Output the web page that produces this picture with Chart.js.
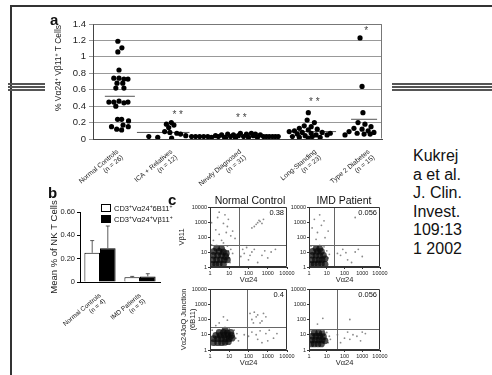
<!DOCTYPE html>
<html>
<head>
<meta charset="utf-8">
<script src="https://cdn.jsdelivr.net/npm/chart.js@4.4.1/dist/chart.umd.min.js"></script>
<style>
  body { margin:0; width:492px; height:375px; overflow:hidden; background:#fff; position:relative;
         font-family:"Liberation Sans", Arial, sans-serif; color:#111; }
  canvas { position:absolute; }
  .rule { position:absolute; background:#333; }
  .tri { position:absolute; height:1.5px; background:#555; }
  .letter { position:absolute; font-weight:bold; font-size:15px; line-height:15px; }
  .ctitle { position:absolute; font-size:10.5px; text-align:center; width:100px; top:194px; }
  .leg { position:absolute; left:101px; font-size:7.5px; line-height:8px; white-space:nowrap; }
  .leg i { display:inline-block; width:8px; height:6px; border:1px solid #000; vertical-align:-1px; margin-right:3px; }
  .leg sup, #ytitleA sup { font-size:5px; vertical-align:3px; }
  #ytitleA { position:absolute; left:58px; top:68px; transform:translate(-50%, -50%) rotate(-90deg);
             font-size:8.5px; white-space:nowrap; color:#222; }
  #cite { position:absolute; left:413px; top:147px; font-size:16px; line-height:18.6px; }
</style>
</head>
<body>
<div class="rule" style="left:10px;top:5px;width:482px;height:1.5px"></div>
<div class="rule" style="left:10px;top:5px;width:1.5px;height:370px"></div>
<div class="tri" style="left:8px;top:83px;width:37px"></div>
<div class="tri" style="left:8px;top:86px;width:37px"></div>
<div class="tri" style="left:8px;top:89px;width:37px"></div>
<div class="tri" style="left:392px;top:83px;width:100px"></div>
<div class="tri" style="left:392px;top:86px;width:100px"></div>
<div class="tri" style="left:392px;top:89px;width:100px"></div>

<canvas id="chartA" width="386" height="195" style="left:0;top:0"></canvas>
<canvas id="chartB" width="161" height="145" style="left:0;top:185px"></canvas>
<canvas id="flowTL" width="128" height="82" style="left:170px;top:203px"></canvas>
<canvas id="flowTR" width="106" height="82" style="left:285px;top:203px"></canvas>
<canvas id="flowBL" width="128" height="83" style="left:170px;top:285px"></canvas>
<canvas id="flowBR" width="106" height="83" style="left:285px;top:285px"></canvas>

<div class="letter" style="left:50px;top:12px">a</div>
<div class="letter" style="left:48px;top:185px">b</div>
<div class="letter" style="left:168px;top:192px">c</div>
<div id="ytitleA">% Vα24<sup>+</sup> Vβ11<sup>+</sup> T Cells</div>
<div class="ctitle" style="left:200px">Normal Control</div>
<div class="ctitle" style="left:294px">IMD Patient</div>
<div class="leg" style="top:202px"><i style="background:#fff"></i>CD3<sup>+</sup>Vα24<sup>+</sup>6B11<sup>+</sup></div>
<div class="leg" style="top:213px"><i style="background:#000"></i>CD3<sup>+</sup>Vα24<sup>+</sup>Vβ11<sup>+</sup></div>
<div id="cite">Kukrej<br>a et al.<br>J. Clin.<br>Invest.<br>109:13<br>1 2002</div>

<script>
// ---------- panel a : individual values ----------
const groupLabels = [
    ['Normal Controls', '(n = 26)'],
    ['ICA + Relatives', '(n = 12)'],
    ['Newly Diagnosed', '(n = 31)'],
    ['Long-Standing', '(n = 23)'],
    ['Type 2 Diabetes', '(n = 15)']
];
const groupTickX = [0.85, 2.72, 5.1, 7.7, 9.55];
const yTicksA = [0, 0.2, 0.4, 0.6, 0.8, 1, 1.2, 1.4];

const normalY = [1.19, 1.11, 1.06, 0.84, 0.74, 0.74, 0.73, 0.73, 0.68, 0.68, 0.62, 0.62, 0.45,
                 0.45, 0.46, 0.44, 0.45, 0.40, 0.24, 0.24, 0.22, 0.15, 0.12, 0.17, 0.15, 0.11];
const normalX = [0.86, 1.0, 0.86, 0.9, 0.72, 0.9, 1.07, 1.21, 0.83, 1.03, 0.79, 1.07, 0.55,
                 0.72, 0.9, 1.07, 1.21, 0.79, 0.85, 0.99, 1.23, 0.64, 0.82, 1.04, 1.22, 0.99];
const icaY = [0.20, 0.18, 0.17, 0.14, 0.09, 0.08, 0.07, 0.06, 0.03, 0.02, 0.01, 0.04];
const icaX = [2.71, 2.54, 2.8, 2.62, 2.48, 2.66, 2.9, 3.03, 1.93, 2.24, 2.72, 3.21];
const newlyY = [0.03, 0.03, 0.03, 0.03, 0.03, 0.02, 0.04, 0.03, 0.05, 0.02, 0.06, 0.03, 0.05, 0.01, 0.04, 0.07,
                0.03, 0.06, 0.02, 0.07, 0.04, 0.06, 0.02, 0.05, 0.03, 0.03, 0.03, 0.03, 0.03, 0.03, 0.01];
const newlyX = [3.41, 3.55, 3.69, 3.83, 3.97, 4.1, 4.24, 4.34, 4.45, 4.55, 4.66, 4.76, 4.86, 4.93, 5.03, 5.1,
                5.21, 5.31, 5.38, 5.48, 5.55, 5.62, 5.69, 5.79, 5.9, 6.0, 6.1, 6.21, 6.31, 6.41, 4.59];
const longY = [0.32, 0.23, 0.20, 0.16, 0.15, 0.13, 0.12, 0.11, 0.10, 0.09, 0.08, 0.08,
               0.07, 0.06, 0.05, 0.05, 0.04, 0.03, 0.03, 0.02, 0.02, 0.01, 0.07];
const longX = [7.45, 7.41, 7.66, 7.31, 7.55, 7.14, 7.76, 7.45, 6.97, 6.79, 7.24, 7.93,
               7.55, 7.07, 7.72, 8.1, 7.34, 6.9, 7.59, 7.14, 7.86, 7.45, 8.21];
const type2Y = [1.23, 0.64, 0.32, 0.20, 0.18, 0.15, 0.13, 0.12, 0.10, 0.09, 0.08, 0.07, 0.06, 0.05, 0.06];
const type2X = [9.24, 9.31, 9.34, 9.17, 9.41, 9.62, 9.03, 9.31, 9.52, 8.86, 9.72, 9.14, 9.38, 8.72, 9.59];

const meanY = [0.52, 0.08, 0.09, 0.24];
const meanFrom = [0.41, 1.52, 6.72, 8.93];
const meanTo = [1.45, 3.34, 8.41, 9.83];

const starText = ['* *', '* *', '* *', '*'];
const starX = [2.93, 5.13, 7.66, 9.45];
const starY = [0.29, 0.25, 0.45, 1.31];

// ---------- panel b : means ----------
const barLabels = [['Normal Controls', '(n = 4)'], ['IMD Patients', '(n = 5)']];
const mean6B11 = [0.25, 0.04];
const meanVb11 = [0.29, 0.048];
const err6B11 = [0.105, 0.008];
const errVb11 = [0.19, 0.023];
const yTicksB = [0, 0.1, 0.2, 0.3, 0.4, 0.5, 0.6];

// ---------- panel c : flow plots (log 1..10000) ----------
const logTicks = [1, 10, 100, 1000, 10000];
const flowGateX = [32, 26, 83, 38];
const flowGateY = [29, 29, 32, 24];
const flowPct = ['0.38', '0.056', '0.4', '0.056'];

const coreTL = [[1.3,1.5],[2,1.5],[3,1.6],[5,1.5],[1.4,3],[2.2,3],[3.5,3],[5.5,3],[1.5,6],[2.5,6],[4,6],
                [6.5,5],[1.6,11],[3,11],[5,10],[2.2,18],[4,17],[8,3],[7,8]];
const dotsTL = [[2,300],[3,150],[5,800],[2.5,2000],[8,500],[12,120],[1.5,60],[6,3000],[4,60],[15,250],
                [1.2,900],[9,1500],[3,4500],[20,80],[7,200],[150,400],[250,700],[400,1100],[600,1500],
                [300,900],[200,500],[500,800],[350,1300],[60,8],[100,3],[200,15],[500,6],[1500,10],[80,20],
                [300,2],[1000,4],[40,5],[2500,15],[150,10],[700,12],[50,15],[120,6],[10,4],[12,15],[8,25],
                [15,8],[1.2,30],[5,40],[11,2],[9,12]];
const coreTR = [[1.3,1.5],[2,1.5],[3.2,1.6],[5,1.6],[8,1.5],[1.4,3],[2.3,3],[3.6,3],[5.5,3],[8,3.5],
                [1.5,6],[2.5,6],[4,6],[6.5,6],[1.6,11],[3,11],[5,11],[2.5,17],[4,16]];
const dotsTR = [[3,200],[5,600],[2,1500],[8,90],[4,3000],[1.5,400],[12,250],[2.5,70],[7,1200],[60,6],
                [150,3],[400,10],[1000,5],[80,15],[250,2],[40,8],[600,15],[120,9],[12,4],[10,12],[7,22],
                [1.3,25],[14,7],[4,28],[400,2000]];
const coreBL = [[1.5,3],[2.5,3],[4,3],[6,3.2],[9,3.5],[1.5,5.5],[2.5,5.5],[4,5.5],[6.5,5.5],[10,5.5],
                [14,6],[2,9],[3.5,9],[5.5,9],[8.5,9],[13,9],[3,14],[5,14],[8,13],[12,14],[6,20]];
const dotsBL = [[150,100],[300,200],[500,80],[200,300],[800,150],[400,60],[250,150],[120,250],[600,250],
                [180,60],[100,8],[300,5],[800,12],[2000,6],[150,15],[500,3],[1200,20],[60,10],[400,18],
                [250,10],[1000,4],[3000,12],[3,60],[5,150],[2,40],[8,90],[22,6],[25,12],[18,20],[10,24],
                [1.3,20],[30,4]];
const coreBR = [[1.3,2.5],[2,2.5],[3.2,2.5],[5,2.5],[1.4,4.5],[2.3,4.5],[3.6,4.5],[5.5,4.5],[8,4],
                [1.5,8],[2.5,8],[4,8],[6.5,7.5],[2,13],[3.5,13],[5.5,12]];
const dotsBR = [[100,6],[300,10],[800,4],[150,15],[500,8],[1500,12],[60,3],[200,5],[1000,15],[40,10],
                [3,50],[200,100],[6,120],[12,3],[14,8],[10,14],[1.3,18],[7,20],[16,5]];

Chart.defaults.font.family = '"Liberation Sans", Arial, sans-serif';
Chart.defaults.color = '#222';

// box round the plot area (top + right, or all four sides)
const framePlugin = {
    id: 'frame',
    afterDraw(chart, args, o) {
        const { ctx, chartArea: a } = chart;
        const l = Math.round(a.left) + 0.5, r = Math.round(a.right) - 0.5;
        const t = Math.round(a.top) + 0.5, b = Math.round(a.bottom) - 0.5;
        ctx.save();
        ctx.strokeStyle = o.color || '#444';
        ctx.lineWidth = 1;
        ctx.beginPath();
        ctx.moveTo(l, t);
        ctx.lineTo(r, t);
        ctx.lineTo(r, b);
        if (o.full) { ctx.lineTo(l, b); ctx.closePath(); }
        ctx.stroke();
        ctx.restore();
    }
};

const starPlugin = {
    id: 'stars',
    afterDatasetsDraw(chart) {
        const { ctx, scales: { x, y } } = chart;
        ctx.save();
        ctx.fillStyle = '#444';
        ctx.font = '10px "Liberation Sans", Arial';
        ctx.textAlign = 'center';
        ctx.textBaseline = 'middle';
        starText.forEach((t, i) => ctx.fillText(t, x.getPixelForValue(starX[i]), y.getPixelForValue(starY[i])));
        ctx.restore();
    }
};

const errPlugin = {
    id: 'errbars',
    afterDatasetsDraw(chart) {
        const { ctx, scales: { y } } = chart;
        const errs = [err6B11, errVb11];
        ctx.save();
        ctx.strokeStyle = '#333';
        ctx.lineWidth = 0.8;
        chart.data.datasets.forEach((ds, di) => {
            chart.getDatasetMeta(di).data.forEach((bar, i) => {
                const top = y.getPixelForValue(ds.data[i] + errs[di][i]);
                ctx.beginPath();
                ctx.moveTo(bar.x, bar.y);
                ctx.lineTo(bar.x, top);
                ctx.moveTo(bar.x - 2, top);
                ctx.lineTo(bar.x + 2, top);
                ctx.stroke();
            });
        });
        ctx.restore();
    }
};

const gatePlugin = {
    id: 'gates',
    afterDatasetsDraw(chart, args, o) {
        const { ctx, chartArea: a, scales: { x, y } } = chart;
        const gx = Math.round(x.getPixelForValue(o.x)) + 0.5;
        const gy = Math.round(y.getPixelForValue(o.y)) + 0.5;
        ctx.save();
        ctx.strokeStyle = '#666';
        ctx.lineWidth = 1;
        ctx.beginPath();
        ctx.moveTo(gx, a.top);
        ctx.lineTo(gx, a.bottom);
        ctx.moveTo(a.left, gy);
        ctx.lineTo(a.right, gy);
        ctx.stroke();
        ctx.fillStyle = '#111';
        ctx.font = '7.5px "Liberation Sans", Arial';
        ctx.textAlign = 'right';
        ctx.textBaseline = 'top';
        ctx.fillText(o.text, a.right - 3, a.top + 2);
        ctx.restore();
    }
};

const toPts = (xs, ys) => xs.map((x, i) => ({ x: x, y: ys[i] }));

// ---------- panel a ----------
const dotSets = [[normalX, normalY], [icaX, icaY], [newlyX, newlyY], [longX, longY], [type2X, type2Y]]
    .map(([xs, ys]) => ({
        data: toPts(xs, ys),
        pointRadius: 2.6,
        backgroundColor: '#000',
        borderWidth: 0
    }));
const meanSets = meanY.map((m, i) => ({
    data: [{ x: meanFrom[i], y: m }, { x: meanTo[i], y: m }],
    showLine: true,
    pointRadius: 0,
    borderColor: '#555',
    borderWidth: 1
}));

new Chart(document.getElementById('chartA'), {
    type: 'scatter',
    data: { datasets: [...dotSets, ...meanSets] },
    options: {
        responsive: false,
        animation: false,
        events: [],
        layout: { padding: { top: 24, right: 3, left: 0, bottom: 0 } },
        plugins: { legend: { display: false }, tooltip: { enabled: false }, frame: { color: '#777' } },
        scales: {
            x: {
                type: 'linear', min: 0, max: 10,
                afterBuildTicks: s => { s.ticks = groupTickX.map(v => ({ value: v })); },
                afterFit: s => { s.height = 56; s.paddingLeft = 0; s.paddingRight = 0; },
                ticks: {
                    autoSkip: false, minRotation: 40, maxRotation: 40, padding: 1,
                    font: { size: 6.8, lineHeight: 1.1 }, color: '#222',
                    callback: (v, i) => groupLabels[i]
                },
                grid: { display: false },
                border: { color: '#444' }
            },
            y: {
                min: 0, max: 1.4,
                afterBuildTicks: s => { s.ticks = yTicksA.map(v => ({ value: v })); },
                afterFit: s => { s.width = 93; s.paddingTop = 0; s.paddingBottom = 0; },
                ticks: { font: { size: 9.5 }, color: '#222', padding: 3, callback: v => String(v) },
                grid: { color: '#999', tickLength: 4 },
                border: { color: '#444' }
            }
        }
    },
    plugins: [framePlugin, starPlugin]
});

// ---------- panel b ----------
new Chart(document.getElementById('chartB'), {
    type: 'bar',
    data: {
        labels: barLabels,
        datasets: [
            { data: mean6B11, backgroundColor: '#fff', borderColor: '#000', borderWidth: 1 },
            { data: meanVb11, backgroundColor: '#000', borderColor: '#000', borderWidth: 1 }
        ]
    },
    options: {
        responsive: false,
        animation: false,
        events: [],
        layout: { padding: { top: 27, right: 1, left: 0, bottom: 0 } },
        datasets: { bar: { categoryPercentage: 0.78, barPercentage: 1 } },
        plugins: { legend: { display: false }, tooltip: { enabled: false } },
        scales: {
            x: {
                afterFit: s => { s.height = 48; s.paddingLeft = 0; s.paddingRight = 0; },
                ticks: { minRotation: 40, maxRotation: 40, padding: 2, font: { size: 6.5, lineHeight: 1.1 }, color: '#222' },
                grid: { display: false },
                border: { color: '#000' }
            },
            y: {
                min: 0, max: 0.6,
                afterBuildTicks: s => { s.ticks = yTicksB.map(v => ({ value: v })); },
                afterFit: s => { s.width = 80; s.paddingTop = 0; s.paddingBottom = 0; },
                ticks: { font: { size: 7.5 }, color: '#222', padding: 2, callback: v => v === 0 ? '0' : v.toFixed(2) },
                grid: { drawOnChartArea: false, tickLength: 3, color: '#000' },
                border: { color: '#000' },
                title: {
                    display: true, text: 'Mean % of NK T Cells', color: '#222',
                    font: { size: 9.5 }, padding: { top: 49, bottom: 0 }
                }
            }
        }
    },
    plugins: [errPlugin]
});

// ---------- panel c ----------
function drawFlow(id, idx, core, dots, yTitle, yTitlePad, yAxisW) {
    new Chart(document.getElementById(id), {
        type: 'scatter',
        data: {
            datasets: [
                { data: core.map(p => ({ x: p[0], y: p[1] })), pointRadius: 3.4,
                  backgroundColor: 'rgba(10,10,10,0.72)', borderWidth: 0 },
                { data: dots.map(p => ({ x: p[0], y: p[1] })), pointRadius: 0.9,
                  backgroundColor: '#8a8a8a', borderWidth: 0 }
            ]
        },
        options: {
            responsive: false,
            animation: false,
            events: [],
            layout: { padding: { top: 4, right: 11, left: 0, bottom: 0 } },
            plugins: {
                legend: { display: false }, tooltip: { enabled: false },
                frame: { color: '#333', full: true },
                gates: { x: flowGateX[idx], y: flowGateY[idx], text: flowPct[idx] }
            },
            scales: {
                x: {
                    type: 'logarithmic', min: 1, max: 10000,
                    afterBuildTicks: s => { s.ticks = logTicks.map(v => ({ value: v })); },
                    afterFit: s => { s.height = 18; s.paddingLeft = 0; s.paddingRight = 0; },
                    ticks: { font: { size: 5.5 }, color: '#222', padding: 1, autoSkip: false,
                             minRotation: 0, maxRotation: 0, callback: v => String(v) },
                    grid: { drawOnChartArea: false, tickLength: 2, color: '#333' },
                    border: { color: '#333' },
                    title: { display: true, text: 'Vα24', color: '#222', font: { size: 7.5 },
                             padding: { top: 0, bottom: 1 } }
                },
                y: {
                    type: 'logarithmic', min: 1, max: 10000,
                    afterBuildTicks: s => { s.ticks = logTicks.map(v => ({ value: v })); },
                    afterFit: s => { s.width = yAxisW; s.paddingTop = 0; s.paddingBottom = 0; },
                    ticks: { font: { size: 5.5 }, color: '#222', padding: 1, autoSkip: false,
                             callback: v => String(v) },
                    grid: { drawOnChartArea: false, tickLength: 2, color: '#333' },
                    border: { color: '#333' },
                    title: yTitle
                        ? { display: true, text: yTitle, color: '#222', font: { size: 7.5 },
                            padding: { top: yTitlePad, bottom: 0 } }
                        : { display: false }
                }
            }
        },
        plugins: [framePlugin, gatePlugin]
    });
}

drawFlow('flowTL', 0, coreTL, dotsTL, 'Vβ11', 7, 40);
drawFlow('flowTR', 1, coreTR, dotsTR, null, 0, 24);
drawFlow('flowBL', 2, coreBL, dotsBL, ['Vα24JαQ Junction', '(6B11)'], 9, 40);
drawFlow('flowBR', 3, coreBR, dotsBR, null, 0, 24);
</script>
</body>
</html>
